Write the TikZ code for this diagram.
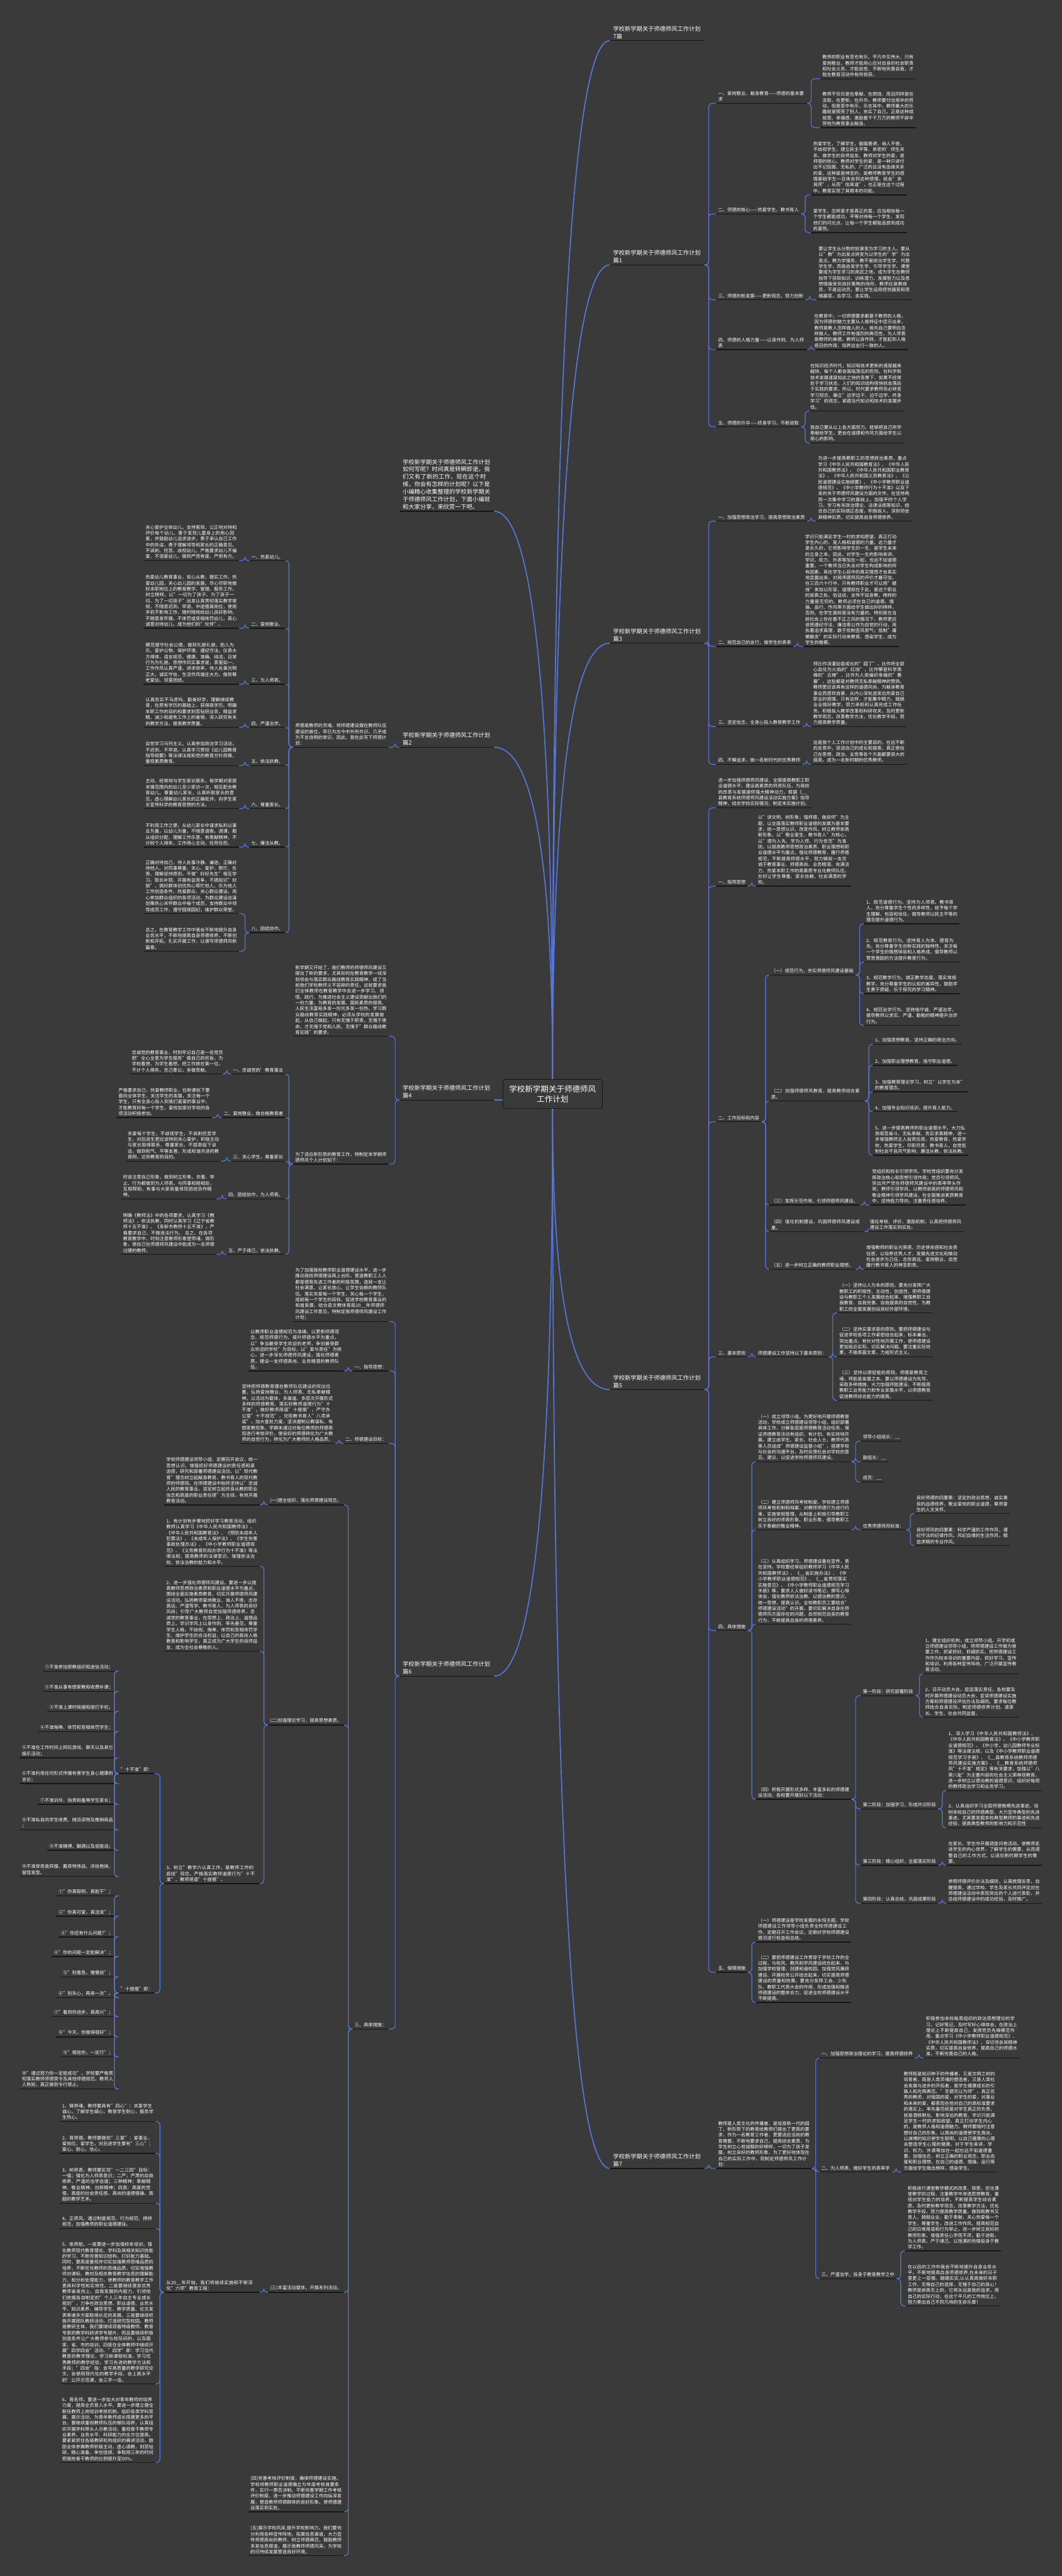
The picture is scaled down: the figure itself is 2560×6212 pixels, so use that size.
\documentclass[tikz,border=0pt]{standalone}
\usepackage{fontspec}
\setmainfont{Noto Sans CJK SC}
\usetikzlibrary{calc}
\XeTeXlinebreaklocale "zh"
\XeTeXlinebreakskip=0pt plus 1pt
\definecolor{bgcol}{RGB}{58,58,58}
\definecolor{linkblue}{RGB}{84,118,222}
\definecolor{linedark}{RGB}{22,22,22}
\newcommand{\mmbody}{\fontsize{11}{14.2}\selectfont}
\newcommand{\mmtitle}{\fontsize{14}{18}\selectfont}
\newcommand{\mmroot}{\fontsize{19}{25}\selectfont}
% curved trunk from the root box to a branch title
\newcommand{\mmtrunk}[2]{\draw[trunk] (#1) .. controls ($(#1)!0.667!(#1 |- #2)$) and ($(#2)!0.667!(#1 |- #2)$) .. (#2);}

\begin{document}
\begin{tikzpicture}[x=1pt,y=-1pt,
    every node/.style={text=white,inner xsep=5pt,inner ysep=4pt},
    uline/.style={append after command={(\tikzlastnode.south west) edge[draw=linedark,line width=2pt] (\tikzlastnode.south east)}},
    rt/.style={uline,anchor=south west,font=\mmbody,align=left},
    lt/.style={uline,anchor=south east,font=\mmbody,align=left},
    para/.style={text width=220pt},
    ttl/.style={font=\mmtitle,text width=212pt,inner xsep=8pt},
    link/.style={draw=linkblue,line width=1.8pt,rounded corners=8pt},
    rlink/.style={link,to path={-- ++(10pt,0) |- (\tikztotarget)}},
    llink/.style={link,to path={-- ++(-10pt,0) |- (\tikztotarget)}},
    trunk/.style={draw=linkblue,line width=2.6pt}
]
  \fill[bgcol] (0,0) rectangle (2560,6212);
  \useasboundingbox (0,0) rectangle (2560,6212);

  % root
  \node[draw=linedark,line width=1.4pt,rounded corners=6pt,minimum width=240pt,minimum height=70pt,
        font=\mmroot,align=center] (root) at (1332,2638) {学校新学期关于师德师风\\工作计划};

  % ---------------- right side ----------------
  \node[rt,ttl] (t0) at (1470,98) {学校新学期关于师德师风工作计划7篇};

  % 篇1
  \node[rt,ttl] (t1) at (1470,639) {学校新学期关于师德师风工作计划篇1};
  \node[rt,text width=209pt] (t1a) at (1726,249) {一、爱岗敬业、献身教育——师德的基本要求};
  \node[rt,para] (t1a1) at (1977,190) {教师的职业有苦也有乐，平凡中见伟大，只有爱岗敬业，教师才能用心应对自身的社会职责和社会义务，才能自觉、不断地完善自我，才能在教育活动中有所收获。};
  \node[rt,para] (t1a2) at (1977,308) {教师不仅仅是在奉献、在燃烧，而且同样是在汲取，在更新，在升华。教师要付出艰辛的劳动，但是苦中有乐，乐在其中。教师最大的乐趣就是照亮了别人，充实了自己。正是这种成就感、幸福感，激励着千千万万的教师不辞辛劳地为教育事业献身。};
  \node[rt] (t1b) at (1726,516) {二、师德的核心——热爱学生、教书育人};
  \node[rt,para] (t1b1) at (1955,470) {热爱学生，了解学生，循循善诱，诲人不倦，不歧视学生，建立民主平等、亲密的'师生关系，做学生的良师益友。教师对学生的爱，是师德的核心。教师对学生的爱，是一种只讲付出不记回报、无私的、广泛的且没有血缘关系的爱。这种爱是神圣的，是教师教育学生的感情基础学生一旦体会到这种感情，就会"亲其师"，从而"信其道"，也正是在这个过程中，教育实现了其根本的功能。};
  \node[rt,para] (t1b2) at (1955,561) {爱学生，怎样爱才是真正的爱，应当相信每一个学生都能成功，平等对待每一个学生，发现他们的闪光点，让每一个学生都能品尝到成功的喜悦。};
  \node[rt] (t1c) at (1726,723) {三、师德的新发展——更新观念、努力创新};
  \node[rt,para] (t1c1) at (1968,723) {要让学生从分数的奴隶变为学习的主人。要从以"教"为出发点转变为以学生的"学"为出发点，教为学服务，教不是统治学生学、代替学生学，而是启发学生学、引导学生学。课堂要成为学生学习的用武之地，成为学生在教师指导下获取知识、训练潜力、发展智力以及思想情操受到良好熏陶的场所。教师应是教练员，不是运动员，要让学生运用感觉器官和思维器官，去学习、去实践。};
  \node[rt,text width=209pt] (t1d) at (1726,843) {四、师德的人格力量——以身作则、为人师表};
  \node[rt,para] (t1d1) at (1958,843) {在教育中，一切师德要求都基于教师的人格，因为师德的魅力主要从人格特征中显示出来，教师是教人怎样做人的人，首先自己要明白怎样做人。教师工作有强烈的典范性，为人师表是教师的美德。教师以身作则，才能起到人格感召的作用，培养出言行一致的人。};
  \node[rt] (t1e) at (1726,1029) {五、师德的升华——终身学习、不断进取};
  \node[rt,para] (t1e1) at (1948,991) {在知识经济时代，知识和技术更新的速度越来越快，每个人都会面临落伍的危险。在科学和技术发展速度如此之快的背景下，如果不经常处于学习状态，人们的知识结构很快就会落后于实践的要求。所以，时代要求教师务必转变学习观念，确立"边学边干、边干边学、终身学习"的观念，紧跟当代知识和技术的发展步伐。};
  \node[rt,para] (t1e2) at (1948,1068) {我自己要从以上各方面努力。能够把自己所学奉献给学生，更会在道德和作风方面给学生以用心的影响。};

  % 篇3
  \node[rt,ttl] (t3) at (1470,1551) {学校新学期关于师德师风工作计划篇3};
  \node[rt] (t3a) at (1726,1257) {一、加强思想政治学习，提高思想政治素质};
  \node[rt,para] (t3a1) at (1967,1257) {为进一步提高教职工的思想政治素质，重点学习《中华人民共和国教育法》、《中华人民共和国教师法》、《中华人民共和国职业教育法》、《中华人民共和国义务教育法》、《公民道德建设实施纲要》、《中小学教师职业道德规范》、《中小学教师行为十不准》以及下发的关于师德师风建设方面的文件。在坚持两周一次集中学习的基础上，加强平时个人学习，学习有关政治理论、法律法规等知识，结合自己的实际端正态度，积极投入，深刻领会其精神实质，切实提高自身师德修养。};
  \node[rt] (t3b) at (1726,1559) {二、规范自己的言行，做学生的表率};
  \node[rt,para] (t3b1) at (1936,1559) {学识只能满足学生一时的求知愿望，真正打动学生内心的，是人格和道德的力量。这力量才是长久的，它将影响学生的一生，是学生未来的立身之本。因此，对学生一生的影响来讲，学识、权力、外表等加在一起，也远不如道德重要。一个教师当已失去对学生构成影响的所有因素，其在学生心目中的真实情感才会真实地显露出来，对其师德师风的评价才最可信。在三百六十行中，只有教师职业才可以用"蜡烛"来加以形容，道理就在于此。是这个职业的崇高之处。俗话说，言传不如身教，榜样的力量是无穷的。教师必须在自己的道德、情操、品行、作风等方面给学生做出好的榜样，否则，在学生面前是没有力量的。特别是在当前社会上存在着不正之风的情况下，教师更应该把遵纪守法、廉洁奉公作为自觉的行动，用执著追求真理，敢于抵制歪风邪气；抵制"庸懒散贪"的实际行动来教育、感染学生，成为学生的楷模。};
  \node[rt] (t3c) at (1726,1752) {三、坚定信念，全身心投入教育教学工作};
  \node[rt,para] (t3c1) at (1955,1752) {师比作浇灌幼苗成长的"园丁"，比作将全部心血化为火焰的"红烛"，比作攀登科学高峰的"云梯"，比作为人类编织幸福的"春蚕"，这些都是对教师无私奉献精神的赞扬。教师更应该具有这样的道德风尚，为献身教育事业而感到自豪，从内心深处迸发出热爱自己职业的感情，只有这样，才能集中精力、兢兢业业搞好教学，努力承担和认真完成工作任务，积极投入教学改革和科研攻关，及时更新教学观念，改革教学方法，优化教学手段，努力提高教学质量。};
  \node[rt] (t3d) at (1726,1843) {四、不懈追求，做一名新时代的优秀教师};
  \node[rt,para] (t3d1) at (1955,1843) {这是我个人工作计划中的主要目的，在这不断的反思中，促进自己的成长和提高，真正使自己在思想、政治、业务等各个方面都要很大的提高，成为一名新时期的优秀教师。};

  % 篇5
  \node[rt,ttl] (t5) at (1470,3351) {学校新学期关于师德师风工作计划篇5};
  \node[rt,para] (t5o) at (1726,1948) {进一步加强师德师风建设，全面提高教职工职业道德水平，建设高素质的师资队伍，为我校的改革与发展提供强大精神动力，根据《\_\_县教育系统师德师风建设活动实施方案》指导精神，结合学校实际情况，制定本实施计划。};
  \node[rt] (t5a) at (1726,2137) {一、指导思想};
  \node[rt,para] (t5a1) at (1822,2137) {以"讲文明，树形象；强师德，做良师"为主题，以全面落实教师职业道德的发展为基本要求，统一思想认识，改变作风，树立教师崇高新形象。以"敬业爱生、教书育人"为核心，以"德为人先、学为人师、行为世范"为准则，以提高教师思想政治素质、职业理想和职业道德水平为重点，强化师德教育，履行师德规范，不断提高师德水平，努力铸就一支忠诚于教育事业、师德高尚、业务精湛、充满活力、热爱本职工作的高素质专业化教师队伍，办好让学生尊重、家长信赖、社会满意的学校。};
  \node[rt] (t5b) at (1726,2705) {二、工作目标和内容};
  \node[rt] (t5b1) at (1854,2351) {（一）规范行为，夯实师德师风建设基础};
  \node[rt,para] (t5b11) at (2083,2228) {1、规范道德行为。坚持为人师表、教书育人，充分尊重学生个性的多样性，给予每个学生理解、包容和信任，倡导教师以民主平等的理念提升道德行为。};
  \node[rt,para] (t5b12) at (2083,2320) {2、规范教育行为。坚持育人为本、德育为先，充分尊重学生创新实践的独特性，关注每一个学生的情感体验和人格养成，倡导教师以赞赏激励的方法提升教育行为。};
  \node[rt,para] (t5b13) at (2083,2396) {3、规范教学行为。端正教学态度、落实常规教学，充分尊重学生的认知的差异性，鼓励学生勇于质疑、乐于探究的学习精神。};
  \node[rt,para] (t5b14) at (2083,2473) {4、规范治学行为。坚持恪守诚、严谨治学，倡导教师以求实、严谨、勤勉的精神提升治学行为。};
  \node[rt,para] (t5b2) at (1854,2655) {（二）加强师德师风教育，提高教师综合素质。};
  \node[rt] (t5b21) at (2104,2518) {1、加强思想教育，坚持正确的政治方向。};
  \node[rt] (t5b22) at (2104,2569) {2、加强职业理想教育，恪守职业道德。};
  \node[rt,para] (t5b23) at (2104,2633) {3、加强教育理论学习，树立"以学生为本"的教育理念。};
  \node[rt] (t5b24) at (2104,2681) {4、加强专业知识培训，提升育人能力。};
  \node[rt,para] (t5b25) at (2104,2786) {5、进一步提高教师的职业道德水平。大力弘扬艰苦奋斗、无私奉献、务实求真精神，进一步增强教师主人翁责任感，热爱教育，热爱学校，热爱学生，尽职尽责，教书育人，自觉抵制社会不良风气影响，廉洁从教，依法执教。};
  \node[rt] (t5b3) at (1854,2906) {（三）发挥示范作用，引领师德师风建设。};
  \node[rt,para] (t5b31) at (2097,2906) {党组织和校长引领学风，学校党组织要充分发挥政治核心和思想引领作用；党员引领师风，突出共产党在师德师风建设中的表率带头作用；教师引领学风，以教师崇高的师德师风和敬业精神引领学风建设，在全面推进素质教育中，坚持能力导向，注重责任感培养。};
  \node[rt,para] (t5b4) at (1854,2970) {（四）强化机制建设，巩固师德师风建设成果。};
  \node[rt,para] (t5b41) at (2092,2970) {强化考核、评价、激励机制，认真把师德师风建设工作落实到实处。};
  \node[rt] (t5b5) at (1854,3061) {（五）进一步树立正确的教师职业理想。};
  \node[rt,para] (t5b51) at (2083,3061) {增强教师的职业光荣感、历史使命感和社会责任感，以培养优秀人才、发展先进文化和推动社会进步为己任，志存高远、爱岗敬业，自觉履行教书育人的神圣职责。};
  \node[rt] (t5c) at (1726,3272) {三、基本原则};
  \node[rt] (t5c1) at (1822,3272) {师德建设工作坚持以下基本原则：};
  \node[rt,para] (t5c11) at (2018,3166) {（一）坚持以人为本的原则。要充分发挥广大教职工的积极性、主动性、创造性，把师德建设与教职工个人发展结合起来，增强教职工自我教育、自我完善、自我提高的自觉性，为教职工的全面发展创设良好外部环境。};
  \node[rt,para] (t5c12) at (2018,3272) {（二）坚持实事求是的原则。要把师德建设与促进学校各项工作紧密结合起来，标本兼治，突出重点，有针对性地开展工作，使师德建设更加贴近实际，切实解决问题。要注重实际效果，不做表面文章，力戒形式主义。};
  \node[rt,para] (t5c13) at (2018,3377) {（三）坚持以德促能的原则。师德是教育之魂，师能是发展之本。要以师德建设为先导，采取多种措施，大力加强师能建设，不断提高教职工业务能力和专业发展水平，以师德教育促进教师综合能力的提高。};
  \node[rt] (t5d) at (1726,3932) {四、具体措施};
  \node[rt,para] (t5d1) at (1822,3525) {（一）成立领导小组。为更好地开展师德教育活动，学校成立师德建设领导小组，组织部署具体工作，分解各层面师德教育活动任务，保证师德教育活动有组织、有计划、有实效地开展。建立由学生、家长、社会人士、教师代表等人员组成"师德建设监督小组"，搭建学校与社会的沟通平台，及时反馈社会对学校的意见、建议，以促进学校师德师风建设。};
  \node[rt] (t5d11) at (2075,3475) {领导小组组长：\_\_};
  \node[rt] (t5d12) at (2075,3525) {副组长：\_\_};
  \node[rt] (t5d13) at (2075,3574) {成员：\_\_};
  \node[rt,para] (t5d2) at (1822,3689) {（二）建立师德师风考核制度。学校建立师德师风考核机制和档案，对教师师德行为进行约束，实施常规管理，从制度上积极引导教职工树立良好的师表形象、职业形象，倡导教职工乐于奉献的敬业精神。};
  \node[rt] (t5d21) at (2075,3689) {优秀师德师风标准：};
  \node[rt,para] (t5d211) at (2204,3650) {良好师德的四要素：坚定的政治思想，诚实善良的品德修养，敬业爱岗的职业道德，尊师爱生的人文关怀。};
  \node[rt,para] (t5d212) at (2204,3727) {良好师风的四要素：科学严谨的工作作风，遵纪守法的纪律作风，风纪自律的生活作风，精益求精的专业作风。};
  \node[rt,para] (t5d3) at (1822,3917) {（三）认真组织学习。师德建设重在宣传，贵在坚持。学校要经常组织教师学习《中华人民共和国教师法》、《\_\_省实施办法》、《中小学教师职业道德规范》、《\_\_省贯彻落实实施意见》、《中小学教师职业道德规范学习手册》等，要求人人做好读书笔记，撰写心得体会，强化教师依法治教、以德治教的意识，统一思想，提高认识。全校教职员工要结合"师德建设活动"的开展，要切实解决自身在师德师风方面存在的问题，自觉规范自身的教育行为，不断提高自身的师德素养。};
  \node[rt,para] (t5d4) at (1822,4339) {（四）积极开展形式多样、丰富多彩的师德建设活动。各校要开展好以下活动：};
  \node[rt] (t5d41) at (2075,4089) {第一阶段：研究部署阶段};
  \node[rt,para] (t5d411) at (2225,4036) {1、健全组织机构，成立领导小组。开学初成立师德建设领导小组，把师德建设工作做为首要工作，抓紧抓好，抓细抓实。把师德建设工作作为校本培训的重要内容，抓好学习、宣传和培训，利用各种宣传阵地，广泛开展宣传教育活动。};
  \node[rt,para] (t5d412) at (2225,4141) {2、召开动员大会，层层落实责任。各校要及时开展师德建设动员大会，宣读师德建设实施方案和师德建设评估办法及细则。要求每位教师结合自身实际，制定师德修养计划。请家长、学生、社会共同监督。};
  \node[rt] (t5d42) at (2075,4362) {第二阶段：加强学习，形成共识阶段};
  \node[rt,para] (t5d421) at (2281,4318) {1、深入学习《中华人民共和国教师法》、《中华人民共和国教育法》、《中小学教师职业道德规范》、《中小学、幼儿园教师专业标准》等法律法规，以及《中小学教师职业道德规范学习手册》、《\_\_县教育系统教师师德师风建设实施方案》、《\_\_教育系统师德师风"十不准"规定》等有关要求，加强以"八荣八耻"为主要内容的社会主义荣辱观教育，进一步树立以德治教的道德意识，组织好每周的教师政治学习和业务学习。};
  \node[rt,para] (t5d422) at (2281,4408) {2、认真组织学习全国师德楷模先进事迹，培树本校自己的师德典型，大力宣传典型的先进事迹，尤其要发掘本校典型教师的事迹和先进经验，提高典型教师的影响力和示范性};
  \node[rt] (t5d43) at (2075,4498) {第三阶段：精心组织，全面落实阶段};
  \node[rt,para] (t5d431) at (2281,4498) {在家长、学生中开展调查问卷活动，使教师走进学生的内心世界，了解学生的需要，从而调整自己的工作方式，以适应新时期学生的需要。};
  \node[rt] (t5d44) at (2075,4590) {第四阶段：认真总结，巩固成果阶段};
  \node[rt,para] (t5d441) at (2281,4590) {参照师德评价办法及细则，认真梳理反思，自醒提高，通过学校、学生及家长共同评定对在师德建设活动中表现突出的个人进行表彰，并总结师德建设中的成功经验，及时推广。};
  \node[rt] (t5e) at (1726,4756) {五、保障措施};
  \node[rt,para] (t5e1) at (1822,4683) {（一）师德建设是学校发展的永恒主题。学校师德建设工作领导小组负责全校师德建设工作，定期召开工作会议，定期对学校师德建设情况进行检查和总结。};
  \node[rt,para] (t5e2) at (1822,4829) {（二）要把师德建设工作贯穿于学校工作的全过程，与校风、教风和学风建设结合起来，与加强学校管理、创建和谐校园、加强党风廉政建设、开展校务公开结合起来，切实提高师德建设的质量和效果。要充分发挥工会、少先队、教职工代表大会的作用，形成加强和推进师德建设的整体合力，促进全校师德建设水平不断提高。};

  % 篇7
  \node[rt,ttl] (t7) at (1470,5229) {学校新学期关于师德师风工作计划篇7};
  \node[rt,para] (t7o) at (1726,5229) {教师是人类文化的传播者，是培育新一代的园丁。新形势下的教育给教师们提出了更高的要求，作为一名教育工作者，更要适应当前的教育需要，不断地要求自己，提高综合素质，为学生树立心悦诚服的好榜样，一切为了孩子发展，树立良好的教师形象，为了更好地体现在自己的实际工作中，现制定师德师风工作计划：};
  \node[rt] (t7a) at (1975,4963) {一、加强思想政治理论的学习，提高师德修养};
  \node[rt,para] (t7a1) at (2227,4963) {积极参加本校每周组织的政治思想理论的学习，记好笔记，及时写好心得体会，在政治上理论上不断提高自己，发挥党员先锋模范作用。重点学习《中小学教师职业道德规范》、《中华人民共和国教师法》，深切领会其精神实质，切实提高自身修养，提高自己的师德水准，不断完善自己的人格。};
  \node[rt] (t7b) at (1975,5238) {二、为人师表，做好学生的表率学};
  \node[rt,para] (t7b1) at (2173,5238) {教师既是知识种子的传播者，又是文明之树的培育者，既是人类灵魂的塑造者，又是人类社会发展与进步的开拓者，是学生健康成长的引路人和光辉典范。"无德无以为师"，真正优秀的教师，对祖国的爱，对学生的爱，对事业和未来的爱，都表现在他对自己的高标准要求的落实上。率先垂范就是对学生真正的负责，就是潜移默化、影响深远的教育。学识只能满足学生一时的求知欲望，真正打动学生内心的，是教师人格和道德魅力。教师要随时注意塑好自己的形象。以高尚的道德使学生高尚，以渊博的知识使学生聪明，以自己健康的心理去塑造学生心理的健康。对于学生来讲，学识、权力、外表等加在一起也远不如道德重要。加强信念，树立正确的职业观念，职业态度和职业理想。在自己的道德、情操、品行等方面给学生做出榜样，感染学生。};
  \node[rt] (t7c) at (1975,5495) {三、严谨治学，投身于教育教学之中};
  \node[rt,para] (t7c1) at (2183,5428) {积极进行课堂教学模式的改革，探索，优化课堂教学的过程，注重教学中渗透思想教育，重视对学生能力的培养，不断提高学生综合素质。及时更新教学观念，改革教学方法，优化教学手段，努力提高教学质量。做到既教书又育人，兢兢业业，勤于奉献，关心热爱每一个学生，尊重学生，改进工作作风，提高规范自己的日常用语和行为举止，进一步树立良好的教师形象。增强责任心学而不厌，勤于进取，为人师表，严于律己。以饱满的热情投身于教学工作。};
  \node[rt,para] (t7c2) at (2183,5561) {在以后的工作中我会不断地提升自身业务水平，不断地提高自身师德修养,在未来的日子里更上一层楼。踏踏实实,认认真真做好本职工作，无悔自己的选择，无愧于自己的良心！教师是崇高无上的，它将永远是我的追求。用自己的实际行动，在这个平凡的工作岗位上，努力奏出自己不同凡响的生命乐章！};

  % ---------------- left side ----------------
  \node[lt,ttl] (intro) at (1191,1233) {学校新学期关于师德师风工作计划如何写呢？时间真是转瞬即逝，我们又有了新的工作，现在这个时候，你会有怎样的计划呢？以下是小编精心收集整理的学校新学期关于师德师风工作计划，下面小编就和大家分享，来欣赏一下吧。};

  % 篇2
  \node[lt,ttl] (t2) at (1191,1802) {学校新学期关于师德师风工作计划篇2};
  \node[lt,para] (t2o) at (937,1802) {师德是教师的灵魂。将师德建设摆在教师队伍建设的首位，早已为古今中外所共识，几乎成为不言自明的常识。因此，我在此写下师德计划：};
  \node[lt] (t2a) at (688,1352) {一、热爱幼儿。};
  \node[lt,para] (t2a1) at (576,1352) {关心爱护全体幼儿。支持客观、公正地对待和评价每个幼儿，善于发现儿童身上的用心因素，并鼓励幼儿追求进步。勇于承认自己工作中的失误，勇于理解领导和家长的正确意见。不讽刺、挖苦、歧视幼儿。严格要求幼儿不偏爱、不溺爱幼儿，做到严而有度、严而有方。};
  \node[lt] (t2b) at (688,1515) {二、爱岗敬业。};
  \node[lt,para] (t2b1) at (576,1515) {热爱幼儿教育事业，安心从教，踏实工作。热爱幼儿园，关心幼儿园的发展。尽心尽职地做好本职岗位上的教育教学、管理、服务工作，树立榜样。以"一切为了孩子、为了孩子一切、为了一切孩子"出发认真贯彻落实教学常规，不随意迟到、早退、中途擅离岗位，使用手机不影响工作，随时随地给幼儿良好影响，不随意发牢骚。不体罚或变相体罚幼儿，真心诚意对待幼儿。成为他们的"伙伴"。};
  \node[lt] (t2c) at (688,1650) {三、为人师表。};
  \node[lt,para] (t2c1) at (576,1650) {模范遵守社会公德，做到礼貌礼貌、助人为乐、爱护公物、保护环境、遵纪守法。仪表大方得体，语言规范、健康、准确、纯洁，日常行为为礼貌。思想作风实事求是，表里如一，工作作风认真严谨，讲求效率，待人处事光明正大，诚实守信，生活作风端庄大方。做到尊老爱幼、邻里团结。};
  \node[lt] (t2d) at (688,1754) {四、严谨治学。};
  \node[lt,para] (t2d1) at (576,1754) {认真务实不马虎吗，勤奋好学，理解继续教育，在原有学历的基础上，获得高学历。明确本职工作的目的和要求刻苦钻研业务，精益求精，减少和避免工作上的差错，深入研究有关的教学方法，提高教学质量。};
  \node[lt] (t2e) at (688,1846) {五、依法执教。};
  \node[lt,para] (t2e1) at (576,1846) {自觉学习马列主义。认真参加政治学习活动，不迟到、不早退。认真学习贯彻《幼儿园教育指导纲要》等法律法规和党的教育方针政策，重视素质教育。};
  \node[lt] (t2f) at (688,1950) {六、尊重家长。};
  \node[lt,para] (t2f1) at (576,1950) {主动、经常地与学生家长联系，每学期对家居本镇范围内的幼儿至少家访一次，相互配合教育幼儿。尊重幼儿家长，认真听取家长的意见，虚心理解幼儿家长的正确批评。向学生家长宣传科学的教育思想的方法。};
  \node[lt] (t2g) at (688,2043) {七、廉洁从教。};
  \node[lt,para] (t2g1) at (576,2043) {不利用工作之便，从幼儿家长中谋求私利以事业为重，以幼儿为重，不随意请假，调课，服从组织分配，理解工作乐意。有奉献精神，不计较个人得失，工作用心主动，任劳任怨。};
  \node[lt] (t2h) at (688,2249) {八、团结协作。};
  \node[lt,para] (t2h1) at (576,2203) {正确对待自己，待人处事冷静、谦逊，正确对待他人、对同事尊重、关心、爱护、帮忙、负责、理解坚持原则，不做"好好先生"相互学习、取长补短、开展有益竞争，不搞知识"封锁"，搞好群体创优热心帮忙他人。乐为他人工作创造条件。热爱群众、关心群众建设，用心参加群众组织的各项活动，为群众建设出谋划策热心关怀群众中每个成员，支持群众中领导成员工作，遵守园规园纪，维护群众荣誉。};
  \node[lt,para] (t2h2) at (576,2294) {总之，在教育教学工作中我会不断地提升自身业务水平，不断地提高自身师德修养，不断创新和开拓，扎实开展工作，以谱写师德师风新篇章。};

  % 篇4
  \node[lt,ttl] (t4) at (1191,2653) {学校新学期关于师德师风工作计划篇4};
  \node[lt,para] (t4o) at (937,2499) {新学期又开始了，我们教师的师德师风建设又提出了新的要求，尤其如何在教育教学一线深刻领会与落实群众路线教育实践精神，成了当前我们学校教师义不容辞的责任，这就要求我们全体教师在教育教学中去进一步学习、领悟、践行。为推进社会主义建设贡献出我们的一份力量，为教育的发展、国民素质的提高、人民生活富裕多发一份光多发一份热。学习群众路线教育实践精神，必须从学校的发展做起，从自己做起，只有无愧于职责，无愧于使命，才无愧于党和人民。无愧于"群众路线教育实践"的要求。};
  \node[lt,para] (t4p) at (937,2807) {为了适应新形势的教育工作，特制定本学期师德师风个人计划如下：};
  \node[lt] (t4a) at (688,2590) {一、忠诚党的'教育事业};
  \node[lt,para] (t4a1) at (543,2590) {忠诚党的教育事业，时刻牢记自己是一名党员把"全心全意为学生服务"做自己的宗旨，为学校着想，为学生着想，把工作放在第一位，不计个人得失，克己奉公，多做贡献。};
  \node[lt] (t4b) at (688,2695) {二、爱岗敬业，做合格教育者};
  \node[lt,para] (t4b1) at (511,2695) {严格要求自己，热爱教师职业，在新课标下要面向全体学生，关注学生的发展，关注每一个学生，只有全身心投入到我们喜爱的事业中，才能教育好每一个学生，爱校如家对学校的各项活动积极参加。};
  \node[lt] (t4c) at (688,2800) {三、关心学生，尊重家长};
  \node[lt,para] (t4c1) at (533,2800) {关爱每个学生，不歧视学生，不讽刺挖苦学生，对后进生更应该特别关心爱护，积极主动与家长取得联系，尊重家长，不居高临下谈话，做到和气、平等友善，形成和谐共进的教育网，达到教育的目的。};
  \node[lt] (t4d) at (688,2891) {四、团结协作，为人师表。};
  \node[lt,para] (t4d1) at (522,2891) {时该注意自己形象，做到树立形象，衣着、举止、行为都做到为人师表，与同事和睦相处，互相帮助，有事与大家商量体现团结协作精神。};
  \node[lt] (t4e) at (688,3025) {五、严于律己，依法执教。};
  \node[lt,para] (t4e1) at (522,3025) {明确《教师法》中的各项要求，认真学习《教师法》，依法执教，同时认真学习《辽宁省教师十五不准》、《阜新市教师十五不准》，严格要求自己，不做违法行为。 总之，在各项教育教学中，时刻注意教师形象塑师魂，铸形象，使自己在师德师风建设中能成为一名师德过硬的教师。};

  % 篇6
  \node[lt,ttl] (t6) at (1191,4042) {学校新学期关于师德师风工作计划篇6};
  \node[lt,para] (t6o) at (937,3187) {为了加强我校教师职业道德建设水平，进一步推动我校师德建设再上台阶。营造教职工人人都是德育先进工作者的积极氛围，造就一支让社会满意、让家长放心、让学生信赖的教师队伍。落实关爱每一个学生，关心每一个学生，成就每一个学生的目标，促进学校教育事业的和谐发展，结合县文教体育局20\_\_年师德师风建设工作意见，特制定我师德师风建设工作计划；};
  \node[lt] (t6a) at (937,3306) {一、指导思想：};
  \node[lt,para] (t6a1) at (829,3306) {以教师职业道德规范为准绳，以更新师德观念、规范师德行为、提升师德水平为重点，以"争当最受学生欢迎的老师，争创最受群众欢迎的学校"为目标，以"爱与责任"为核心，进一步深化师德师风建设，强化师德素质，建设一支师德高尚、业务精湛的教师队伍。};
  \node[lt] (t6b) at (937,3481) {二、师德建设目标：};
  \node[lt,para] (t6b1) at (808,3481) {坚持把师德教育摆在教师队伍建设的突出位置，弘扬爱岗敬业、为人师表、无私奉献精神。以活动为载体，多渠道、多层次开展形式多样的师德教育。落实好教师道德行为"十不准"，做好教师用语"十提倡"，严守办公室"十不规范"，兑现教书育人"八项承诺"，加大查处力度，坚决遏制以教谋私、有偿家教现象。学期末通过对每位教师的师德表现进行考核评价，使良好的师德转化为广大教师的自觉行为，转化为广大教师的人格品质。};
  \node[lt] (t6c) at (937,4893) {三、具体措施：};
  \node[lt] (t6c1) at (829,3629) {(一)健全组织，强化师德建设观念。};
  \node[lt,para] (t6c11) at (626,3629) {学校师德建设领导小组，定期召开会议，统一思想认识，增强抓好师德建设的责任感和紧迫感，研究和部署师德建设活动，以"现代教育"理念树立起献身教育、教书育人的现代教师的师德观。在师德建设中始终坚持以"忠诚人民的教育事业，坚定树立起终身从教的职业信念和高度的职业责任感"为主线，有效开展教育活动。};
  \node[lt] (t6c2) at (829,4160) {(二)加强理论学习，提高思想素质。};
  \node[lt,para] (t6c21) at (626,3777) {1、有计划有步骤地抓好学习教育活动。组织教师认真学习《中华人民共和国教师法》、《中华人民共和国教育法》、《预防未成年人犯罪法》、《未成年人保护法》、《学生伤害事故处理办法》、《中小学教师职业道德规范》、《义务教育阶段办学行为十不准》等法律法规，提高教师的法律意识，增强依法治校、依法治教的能力和水平。};
  \node[lt,para] (t6c22) at (626,3982) {2、进一步强化师德师风建设。要进一步以提高教师思想政治素质和职业道德水平为重点，围绕全面实施素质教育，切实开展师德师风建设活动。弘扬教师爱岗敬业、诲人不倦、志存高远、严谨笃学、教书育人、为人师表的良好风尚；引导广大教师自觉加强师德修养，忠诚党的教育事业，在思想上、政治上、道德品质上、学识学风上以身作则、率先垂范，尊重学生人格，不歧视、侮辱、体罚和变相体罚学生，维护学生的合法权益，以自己的高尚人格教育和影响学生，真正成为广大学生的良师益友，成为全社会尊敬的人。};
  \node[lt,para] (t6c23) at (626,4542) {3、树立"教学六认真工作，是教师工作的底线"观念，严格落实教师道德行为"十不准"、教师用语"十提倡"。};
  \node[lt] (bz) at (373,4277) {"十不准"即：};
  \node[lt] (bz1) at (278,4030) {①不准参加邪教组织和迷信活动；};
  \node[lt] (bz2) at (278,4079) {②不准从事有偿家教和收费补课；};
  \node[lt] (bz3) at (278,4127) {③不准上课时吸烟和接打手机；};
  \node[lt] (bz4) at (278,4176) {④不准侮辱、体罚和变相体罚学生；};
  \node[lt] (bz5) at (278,4239) {⑤不准在工作时间上网玩游戏、聊天以及其它\\娱乐活动；};
  \node[lt] (bz6) at (278,4301) {⑥不准利用任何形式传播有害学生身心健康的\\言论；};
  \node[lt] (bz7) at (278,4351) {⑦不准训斥、指责和羞辱学生家长；};
  \node[lt] (bz8) at (278,4413) {⑧不准私自向学生收费、摊派读物及推销商品\\；};
  \node[lt] (bz9) at (278,4462) {⑨不准赌博、酗酒以及说脏话；};
  \node[lt] (bz10) at (278,4525) {⑩不准穿奇装异服、戴奇特饰品、浓妆艳抹，\\留怪发型。};
  \node[lt] (tc) at (373,4806) {"十提倡"即：};
  \node[lt] (tc1) at (278,4572) {①"你真聪明，真能干"；};
  \node[lt] (tc2) at (278,4621) {②"你真可爱，真活泼"；};
  \node[lt] (tc3) at (278,4671) {③"你还有什么问题?"；};
  \node[lt] (tc4) at (278,4718) {④"你的问题一定能解决"；};
  \node[lt] (tc5) at (278,4767) {⑤"别着急，慢慢说"；};
  \node[lt] (tc6) at (278,4817) {⑥"别灰心，再来一次"。};
  \node[lt] (tc7) at (278,4863) {⑦"看到你进步，真高兴"；};
  \node[lt] (tc8) at (278,4912) {⑧"今天，你做得很好"；};
  \node[lt] (tc9) at (278,4960) {⑨"相信你，一定行"；};
  \node[lt,para] (tc10) at (278,5037) {⑩"通过努力你一定能成功"。学校要严格贯彻落实教师师德禁令及其他师德规范，教师人人熟知，真正做到令行禁止。};
  \node[lt] (t6c3) at (829,5528) {(三)丰富活动载体，开展系列活动。};
  \node[lt,para] (t6c31) at (626,5528) {从20\_\_年开始，我们将继续实施和不断深化"六师"教育工程：};
  \node[lt,para] (ls1) at (375,5116) {1、铸师魂。教师要具有"四心"：关爱学生诚心，了解学生细心，教育学生耐心，服务学生热心。};
  \node[lt,para] (ls2) at (375,5193) {2、育师德。教师要做到"三爱"：爱事业，爱岗位，爱学生。对后进学生要有"三心"：爱心、耐心、信心。};
  \node[lt,para] (ls3) at (375,5313) {3、树师表。教师要实现"一二三四"目标：一强；强化为人师表意识；二严；严肃的自我修养、严谨的治学态度；三种精神；奉献精神、敬业精神、创新精神；四高：高度的觉悟、高度的社会责任感、高尚的道德情操、高超的教学艺术。};
  \node[lt,para] (ls4) at (375,5374) {4、正师风。通过制度规范、行为规范、榜样规范，加强教师的职业道德建设。};
  \node[lt,para] (ls5) at (375,5749) {5、练师能。一是要进一步加强校本培训，强化教师现代教育理论、学科及其相关知识技能的学习，不断完善知识结构，打好能力基础。同时，要高度重视并切实加强教师思维品质的培养，不断优化教师的思维品质，切实增强教师对课标、教材及相关教育教学信息的理解能力，和分析处理能力，使教师的教育教学工作更具科学性和实效性。二是要继续激发优秀教师奋发向上、自我发展的内驱力，引领他们依据各自制定的"个人三年自主专业成长规划"，力争在政治思想、职业道德、业务水平、知识素养、辅导学生、教学质量、论文发表等诸多方面取得长足的发展。三是要继续积极开展团队教研活动，打造研究型校园。教师是教研主体，我们要继续观看特级教师、教育专家的教学科研讲学专题片，而且要继续积极创造条件让广大教师参与校际间的，以及国家、省、市的培训。四是在全体教师中继续开展"四学四会"活动。"四学"即：学习当代教育的教学理论，学习新课程标准，学习优秀教师的教学经验，学习先进的教学方法和手段；"四会"指：会写高质量的教学研究论文，会使用现代化的教学手段，会上高水平的'公开示范课，会三字一话。};
  \node[lt,para] (ls6) at (375,5938) {6、育名师。要进一步加大对青年教师的培养力度，提高全员育人水平。要进一步建立健全新任教师上岗培训考核机制，组织各类学科竞赛、展示活动，为青年教师成长搭建更多的平台。要继续重视教师队伍的梯队培养，认真组织开展学科带头人示教活动，重视骨干教师专业素养、业务水平、科研能力的全方位提高。要紧紧抓住各级教研机构组织的赛讲活动，鼓励全体参赛教师积极主动，虚心请教，刻苦钻研，精心准备，争创佳绩，争取用三年的时间把我校骨干教师的比例提升至50\%。};
  \node[lt,para] (t6c4) at (829,6057) {(四)完善考核评价制度，确保师德建设实施。学校将教师职业道德确立为年度考核首要条件，实行一票否决制。不断完善学期工作考核评价制度，进一步推动师德建设工作向纵深发展，塑造教师师德群体的良好形象。使师德建设落实到实处。};
  \node[lt,para] (t6c5) at (829,6163) {(五)展示学校风采,提升学校影响力。我们要充分利用各种宣传阵地，拓展信息渠道，大力宣传师德高尚的教师，树立师德典范，鼓励教师多发信息报道，展示我教师师德风采，为学校的可持续发展营造良好环境。};

  % ---------------- trunks from the root ----------------
  \mmtrunk{root.north}{t0.south west}
  \mmtrunk{root.north}{t1.south west}
  \mmtrunk{root.north}{t3.south west}
  \mmtrunk{root.south}{t5.south west}
  \mmtrunk{root.south}{t7.south west}
  \mmtrunk{root.north}{intro.south east}
  \mmtrunk{root.north}{t2.south east}
  \mmtrunk{root.south}{t6.south east}
  \draw[trunk] (t4.south east) -- (t4.south east -| root.west);

  % ---------------- links, right side ----------------
  \foreach \c in {t1a,t1b,t1c,t1d,t1e} \draw[rlink] (t1.south east) to (\c.south west);
  \foreach \c in {t1a1,t1a2} \draw[rlink] (t1a.south east) to (\c.south west);
  \foreach \c in {t1b1,t1b2} \draw[rlink] (t1b.south east) to (\c.south west);
  \draw[rlink] (t1c.south east) to (t1c1.south west);
  \draw[rlink] (t1d.south east) to (t1d1.south west);
  \foreach \c in {t1e1,t1e2} \draw[rlink] (t1e.south east) to (\c.south west);

  \foreach \c in {t3a,t3b,t3c,t3d} \draw[rlink] (t3.south east) to (\c.south west);
  \foreach \p in {t3a,t3b,t3c,t3d} \draw[rlink] (\p.south east) to (\p1.south west);

  \foreach \c in {t5o,t5a,t5b,t5c,t5d,t5e} \draw[rlink] (t5.south east) to (\c.south west);
  \draw[rlink] (t5a.south east) to (t5a1.south west);
  \foreach \c in {t5b1,t5b2,t5b3,t5b4,t5b5} \draw[rlink] (t5b.south east) to (\c.south west);
  \foreach \c in {t5b11,t5b12,t5b13,t5b14} \draw[rlink] (t5b1.south east) to (\c.south west);
  \foreach \c in {t5b21,t5b22,t5b23,t5b24,t5b25} \draw[rlink] (t5b2.south east) to (\c.south west);
  \draw[rlink] (t5b3.south east) to (t5b31.south west);
  \draw[rlink] (t5b4.south east) to (t5b41.south west);
  \draw[rlink] (t5b5.south east) to (t5b51.south west);
  \draw[rlink] (t5c.south east) to (t5c1.south west);
  \foreach \c in {t5c11,t5c12,t5c13} \draw[rlink] (t5c1.south east) to (\c.south west);
  \foreach \c in {t5d1,t5d2,t5d3,t5d4} \draw[rlink] (t5d.south east) to (\c.south west);
  \foreach \c in {t5d11,t5d12,t5d13} \draw[rlink] (t5d1.south east) to (\c.south west);
  \draw[rlink] (t5d2.south east) to (t5d21.south west);
  \foreach \c in {t5d211,t5d212} \draw[rlink] (t5d21.south east) to (\c.south west);
  \foreach \c in {t5d41,t5d42,t5d43,t5d44} \draw[rlink] (t5d4.south east) to (\c.south west);
  \foreach \c in {t5d411,t5d412} \draw[rlink] (t5d41.south east) to (\c.south west);
  \foreach \c in {t5d421,t5d422} \draw[rlink] (t5d42.south east) to (\c.south west);
  \draw[rlink] (t5d43.south east) to (t5d431.south west);
  \draw[rlink] (t5d44.south east) to (t5d441.south west);
  \foreach \c in {t5e1,t5e2} \draw[rlink] (t5e.south east) to (\c.south west);

  \draw[rlink] (t7.south east) to (t7o.south west);
  \foreach \c in {t7a,t7b,t7c} \draw[rlink] (t7o.south east) to (\c.south west);
  \draw[rlink] (t7a.south east) to (t7a1.south west);
  \draw[rlink] (t7b.south east) to (t7b1.south west);
  \foreach \c in {t7c1,t7c2} \draw[rlink] (t7c.south east) to (\c.south west);

  % ---------------- links, left side ----------------
  \draw[llink] (t2.south west) to (t2o.south east);
  \foreach \c in {t2a,t2b,t2c,t2d,t2e,t2f,t2g,t2h} \draw[llink] (t2o.south west) to (\c.south east);
  \foreach \p in {t2a,t2b,t2c,t2d,t2e,t2f,t2g} \draw[llink] (\p.south west) to (\p1.south east);
  \foreach \c in {t2h1,t2h2} \draw[llink] (t2h.south west) to (\c.south east);

  \foreach \c in {t4o,t4p} \draw[llink] (t4.south west) to (\c.south east);
  \foreach \c in {t4a,t4b,t4c,t4d,t4e} \draw[llink] (t4p.south west) to (\c.south east);
  \foreach \p in {t4a,t4b,t4c,t4d,t4e} \draw[llink] (\p.south west) to (\p1.south east);

  \foreach \c in {t6o,t6a,t6b,t6c} \draw[llink] (t6.south west) to (\c.south east);
  \draw[llink] (t6a.south west) to (t6a1.south east);
  \draw[llink] (t6b.south west) to (t6b1.south east);
  \foreach \c in {t6c1,t6c2,t6c3,t6c4,t6c5} \draw[llink] (t6c.south west) to (\c.south east);
  \draw[llink] (t6c1.south west) to (t6c11.south east);
  \foreach \c in {t6c21,t6c22,t6c23} \draw[llink] (t6c2.south west) to (\c.south east);
  \foreach \c in {bz,tc} \draw[llink] (t6c23.south west) to (\c.south east);
  \foreach \i in {1,...,10} \draw[llink] (bz.south west) to (bz\i.south east);
  \foreach \i in {1,...,10} \draw[llink] (tc.south west) to (tc\i.south east);
  \draw[llink] (t6c3.south west) to (t6c31.south east);
  \foreach \i in {1,...,6} \draw[llink] (t6c31.south west) to (ls\i.south east);
\end{tikzpicture}
\end{document}
